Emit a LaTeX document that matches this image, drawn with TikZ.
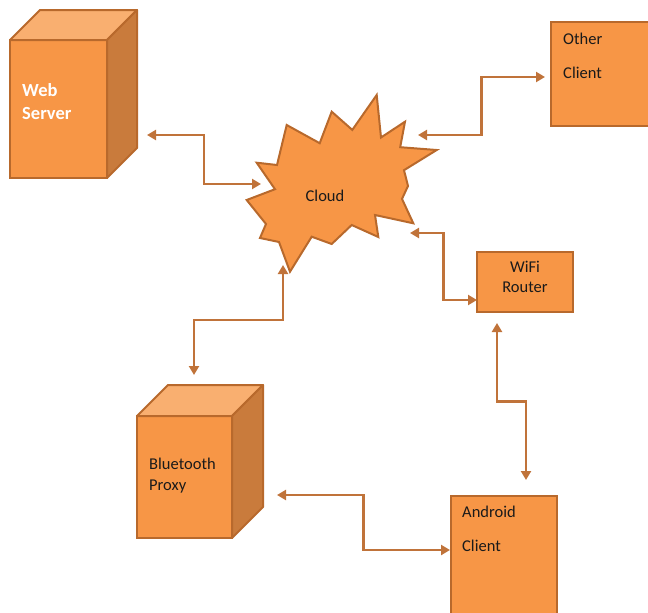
\documentclass[tikz,border=0pt]{standalone}
\usepackage{fontspec}
\setmainfont{Carlito}
\usetikzlibrary{arrows.meta,calc}
\definecolor{facec}{HTML}{F79646}
\definecolor{topc}{HTML}{F9AF70}
\definecolor{sidec}{HTML}{C97B3C}
\definecolor{edgec}{HTML}{B8692C}
\definecolor{arrowc}{HTML}{C0733A}
\definecolor{txtc}{HTML}{1A1A1A}
\begin{document}
\begin{tikzpicture}[x=1pt,y=-1pt,
  box/.style={draw=edgec,fill=facec,line width=2pt,inner sep=0pt,outer sep=0pt,anchor=north west},
  topface/.style={draw=edgec,fill=topc,line width=2pt,line join=round},
  sideface/.style={draw=edgec,fill=sidec,line width=2pt,line join=round},
  lbl/.style={inner sep=0pt,anchor=west,align=left,text=txtc,font=\fontsize{16.5pt}{34pt}\selectfont},
  conn/.style={draw=arrowc,line width=2.8pt,{Triangle[length=9pt,width=10pt]}-{Triangle[length=9pt,width=10pt]}}]
\useasboundingbox (0,0) rectangle (648,613);

% Web Server cube
\node[box,minimum width=97pt,minimum height=138pt] (ws) at (10,40) {};
\draw[topface] (ws.north west) -- ++(30,-30) -- ++(97,0) -- (ws.north east) -- cycle;
\draw[sideface] (ws.north east) -- ++(30,-30) -- ++(0,138) -- (ws.south east) -- cycle;
\node[lbl,text=white,font=\bfseries\fontsize{18.5pt}{23pt}\selectfont] (wst) at (22,101.5) {Web\\Server};

% Other Client
\node[box,minimum width=104pt,minimum height=104pt] (oc) at (551,22) {};
\node[lbl] (oct) at (563,56) {Other\\Client};

% WiFi Router
\node[box,minimum width=96pt,minimum height=60pt] (wf) at (477,252) {};
\node[lbl,anchor=center,align=center,font=\fontsize{16.5pt}{20pt}\selectfont] (wft) at (525,277) {WiFi\\Router};

% Bluetooth Proxy cube
\node[box,minimum width=95pt,minimum height=122pt] (bt) at (137,416) {};
\draw[topface] (bt.north west) -- ++(31,-31) -- ++(95,0) -- (bt.north east) -- cycle;
\draw[sideface] (bt.north east) -- ++(31,-31) -- ++(0,122) -- (bt.south east) -- cycle;
\node[lbl,font=\fontsize{16.5pt}{21pt}\selectfont] (btt) at (149,475.5) {Bluetooth\\Proxy};

% Android Client
\node[box,minimum width=106pt,minimum height=130pt] (an) at (451,496) {};
\node[lbl] (ant) at (462,528.5) {Android\\Client};

% Cloud starburst
\draw[draw=edgec,fill=facec,line width=2pt,line join=miter]
  (286.7,125) -- (319.7,143.2) -- (331.7,111.7) -- (352.3,129.9) -- (376.7,95)
  -- (381,137.5) -- (405,121.7) -- (400.2,147.2) -- (436.7,150)
  -- (404,170.2) -- (408,186) -- (402,198.9) -- (413.3,223.3)
  -- (375,215) -- (378.3,237) -- (351.7,225) -- (331.7,244)
  -- (311.7,236.7) -- (290,271.7) -- (279,242) -- (260,238)
  -- (266,224) -- (246.7,200) -- (275,189.2) -- (256.7,162.7)
  -- (277,165) -- cycle;
\node[lbl,anchor=center] (cl) at (325,196) {Cloud};

% connector end points
\coordinate (wsa) at (147,135);
\coordinate (cla) at (261,184);
\coordinate (clb) at (418,135);
\coordinate (oca) at (545,77);
\coordinate (clc) at (410,233);
\coordinate (wfa) at (477,300);
\coordinate (cld) at (283,265);
\coordinate (bta) at (194,375);
\coordinate (wfb) at (497,323);
\coordinate (ana) at (526,480);
\coordinate (btb) at (277,495);
\coordinate (anb) at (450,550);

\draw[conn] (wsa) -| ($(wsa)!.5!(cla)$) |- (cla);
\draw[conn] (clb) -| ($(clb)!.5!(oca)$) |- (oca);
\draw[conn] (clc) -| ($(clc)!.5!(wfa)$) |- (wfa);
\draw[conn] (cld) |- ($(cld)!.5!(bta)$) -| (bta);
\draw[conn] (wfb) |- ($(wfb)!.5!(ana)$) -| (ana);
\draw[conn] (btb) -| ($(btb)!.5!(anb)$) |- (anb);
\end{tikzpicture}
\end{document}
